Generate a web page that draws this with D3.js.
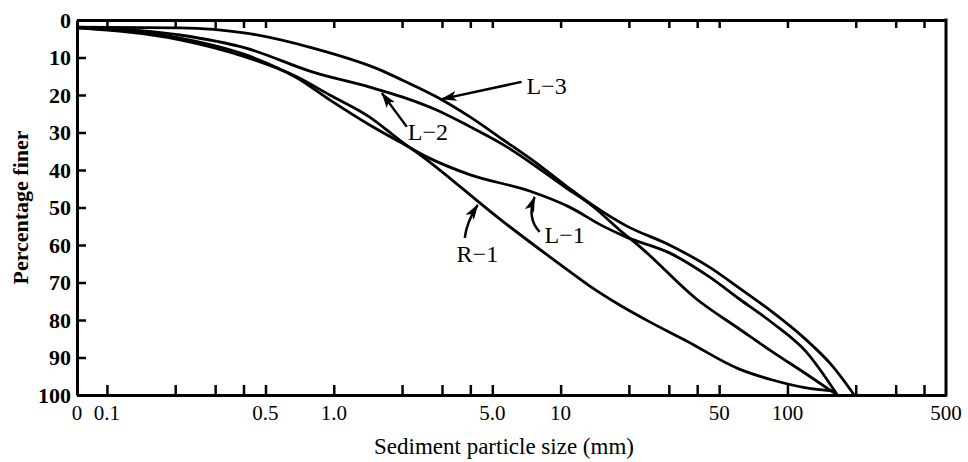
<!DOCTYPE html>
<html><head><meta charset="utf-8">
<script src="https://cdn.jsdelivr.net/npm/d3@7"></script>
<style>
html,body{margin:0;padding:0;background:#fff;}
svg{display:block;}
text{font-family:"Liberation Serif","Times New Roman",serif;fill:#000;}
</style></head><body>
<svg id="chart" width="968" height="462"></svg>
<script>
// ---- data ----
const sizeMin = 0.0738;   // left edge of the log axis, labelled "0"
const sizeMax = 500;
const pctTicks = [0, 10, 20, 30, 40, 50, 60, 70, 80, 90, 100];
const sizeTicks = [0.1, 0.2, 0.3, 0.4, 0.5, 1, 2, 3, 4, 5, 10, 20, 30, 40, 50, 100, 200, 300, 400];
const sizeLabelValues = [sizeMin, 0.1, 0.5, 1, 5, 10, 50, 100, 500];
const sizeLabelText = ["0", "0.1", "0.5", "1.0", "5.0", "10", "50", "100", "500"];

const seriesNames = ["L\u22121", "L\u22122", "L\u22123", "R\u22121"];

const l1Size = [0.074, 0.21, 0.41, 0.69, 0.96, 1.44, 1.95, 2.57, 4.0, 7.3, 10.96, 15.3, 19.5, 30.2, 45.3, 61.4, 85.9, 121, 166];
const l1Pct  = [2.1, 4.8, 9.3, 15.5, 21.3, 28.0, 32.5, 36.5, 41.3, 45.6, 49.9, 54.9, 57.9, 62.1, 68.5, 74.4, 80.8, 88.5, 100];

const l2Size = [0.074, 0.21, 0.41, 0.81, 1.44, 2.0, 2.84, 4.0, 5.6, 10.6, 13.8, 18.2, 23, 39.7, 61.4, 85.9, 121, 163];
const l2Pct  = [1.9, 4.0, 7.5, 13.9, 17.9, 20.5, 24.0, 28.5, 33.3, 44.8, 49.6, 56.0, 61.1, 74.4, 82.4, 88.5, 94.4, 99.7];

const l3Size = [0.074, 0.21, 0.41, 0.81, 1.6, 2.0, 2.9, 4.0, 5.6, 7.8, 10.6, 13.8, 19.5, 30.2, 45.3, 61.4, 85.9, 121, 158, 197];
const l3Pct  = [1.9, 2.1, 3.5, 7.5, 13.3, 16.0, 20.8, 25.9, 32.0, 38.1, 44.3, 49.3, 54.9, 60.0, 65.9, 71.5, 77.9, 85.3, 92.3, 100];

const r1Size = [0.074, 0.21, 0.41, 0.69, 0.96, 1.44, 1.95, 2.47, 5.4, 9.9, 13.4, 18.2, 24.7, 35.9, 61.4, 85.9, 121, 158];
const r1Pct  = [2.1, 5.3, 9.9, 15.2, 20.0, 25.9, 32.0, 36.5, 53.1, 65.1, 70.9, 76.0, 80.5, 85.6, 93.1, 96.0, 98.1, 98.9];

// ---- layout ----
const svg = d3.select("#chart");
const plotL = 77, plotR = 946, plotT = 20, plotB = 395;

const x = d3.scaleLog().domain([sizeMin, sizeMax]).range([plotL, plotR]);
const y = d3.scaleLinear().domain([0, 100]).range([plotT, plotB]);

const series = [
  {name: seriesNames[0], size: l1Size, pct: l1Pct},
  {name: seriesNames[1], size: l2Size, pct: l2Pct},
  {name: seriesNames[2], size: l3Size, pct: l3Pct},
  {name: seriesNames[3], size: r1Size, pct: r1Pct}
];

const line = d3.line()
  .x(d => x(d[0]))
  .y(d => y(d[1]))
  .curve(d3.curveMonotoneX);

svg.append("g").selectAll("path")
  .data(series)
  .join("path")
  .attr("d", s => line(s.size.map((v, i) => [v, s.pct[i]])))
  .attr("fill", "none")
  .attr("stroke", "#000")
  .attr("stroke-width", 2.8)
  .attr("stroke-linejoin", "round");

// ---- axes ----
function styleAxis(g) {
  g.select(".domain").attr("stroke", "#000").attr("stroke-width", 3);
  g.selectAll(".tick line").attr("stroke", "#000").attr("stroke-width", 2.5);
  g.selectAll(".tick text").remove();
}

svg.append("g")
  .attr("transform", `translate(0,${plotB})`)
  .call(d3.axisBottom(x).tickValues(sizeTicks).tickSize(-10).tickSizeOuter(0).tickFormat(""))
  .call(styleAxis);

svg.append("g")
  .attr("transform", `translate(0,${plotT})`)
  .call(d3.axisTop(x).tickValues(sizeTicks).tickSize(-8).tickSizeOuter(0).tickFormat(""))
  .call(styleAxis);

const yAxisG = svg.append("g")
  .attr("transform", `translate(${plotL},0)`)
  .call(d3.axisLeft(y).tickValues(pctTicks).tickSize(-9).tickSizeOuter(0).tickPadding(6));
yAxisG.select(".domain").attr("stroke", "#000").attr("stroke-width", 3);
yAxisG.selectAll(".tick line").attr("stroke", "#000").attr("stroke-width", 2.5);
yAxisG.selectAll(".tick text")
  .attr("font-family", "'Liberation Serif','Times New Roman',serif")
  .attr("font-size", 22)
  .attr("font-weight", "bold")
  .attr("fill", "#000");

svg.append("line")
  .attr("x1", plotR).attr("x2", plotR)
  .attr("y1", plotT - 1.5).attr("y2", plotB + 1.5)
  .attr("stroke", "#000").attr("stroke-width", 3);

// x tick labels
svg.append("g").selectAll("text")
  .data(sizeLabelValues)
  .join("text")
  .attr("x", d => x(d))
  .attr("y", plotB + 25)
  .attr("text-anchor", "middle")
  .attr("font-size", 21)
  .text((d, i) => sizeLabelText[i]);

// axis titles
svg.append("text")
  .attr("x", 504).attr("y", 454)
  .attr("text-anchor", "middle")
  .attr("font-size", 23)
  .text("Sediment particle size (mm)");

svg.append("text")
  .attr("transform", `translate(28,${(plotT + plotB) / 2}) rotate(-90)`)
  .attr("text-anchor", "middle")
  .attr("font-size", 22)
  .attr("font-weight", "bold")
  .text("Percentage finer");

// ---- annotations (data coordinates) ----
svg.append("defs").append("marker")
  .attr("id", "ah")
  .attr("markerUnits", "userSpaceOnUse")
  .attr("viewBox", "0 0 16 10")
  .attr("markerWidth", 16).attr("markerHeight", 10)
  .attr("refX", 15).attr("refY", 5)
  .attr("orient", "auto")
  .append("path")
  .attr("d", "M0,0 L16,5 L0,10 L4,5 Z")
  .attr("fill", "#000");

const notes = [
  {name: seriesNames[2], text: [7.08, 19.7], from: [6.73, 16.5], ctrl: null, tip: [2.99, 21.1]},
  {name: seriesNames[1], text: [2.12, 32.0], from: [2.10, 28.5], ctrl: null, tip: [1.63, 19.5]},
  {name: seriesNames[0], text: [8.50, 59.5], from: [8.08, 56.5], ctrl: [7.08, 52.8], tip: [7.68, 47.2]},
  {name: seriesNames[3], text: [3.48, 64.5], from: [3.78, 58.1], ctrl: [3.85, 53.9], tip: [4.31, 49.3]}
];

const ng = svg.append("g");
notes.forEach(n => {
  const p = d3.path();
  p.moveTo(x(n.from[0]), y(n.from[1]));
  if (n.ctrl) p.quadraticCurveTo(x(n.ctrl[0]), y(n.ctrl[1]), x(n.tip[0]), y(n.tip[1]));
  else p.lineTo(x(n.tip[0]), y(n.tip[1]));
  ng.append("path")
    .attr("d", p.toString())
    .attr("fill", "none")
    .attr("stroke", "#000")
    .attr("stroke-width", 2.5)
    .attr("marker-end", "url(#ah)");
  ng.append("text")
    .attr("x", x(n.text[0]))
    .attr("y", y(n.text[1]))
    .attr("font-size", 24)
    .text(n.name);
});
</script>
</body></html>
